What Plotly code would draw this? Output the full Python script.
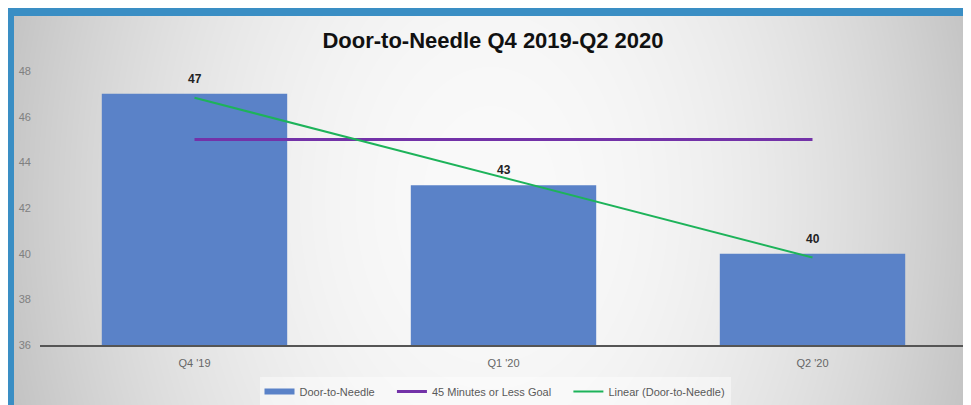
import base64
import struct
import zlib

import numpy as np
import plotly.graph_objects as go

# ---------------- data ----------------
categories = ["Q4 '19", "Q1 '20", "Q2 '20"]
door_to_needle = [47, 43, 40]
goal_values = [45, 45, 45]
trend_values = [46.83, 43.33, 39.83]   # Linear (Door-to-Needle) trendline
y_ticks = [36, 38, 40, 42, 44, 46, 48]

TITLE = "Door-to-Needle Q4 2019-Q2 2020"

# ---------------- geometry ----------------
# the page body adds an 8px offset, so the figure is laid out 8px smaller
OFF = 8
W, H = 971 - OFF, 405 - OFF
ML, MR, MT, MB = 40 - OFF, 4, 71 - OFF, 60
PW, PH = W - ML - MR, H - MT - MB

# ---------------- background image (gradient + frame) ----------------
yy, xx = np.mgrid[0:H, 0:W]
sx, sy = xx + OFF, yy + OFF
v = 250 - 55 * (((sx - 490) / 500.0) ** 2 + ((sy - 200) / 700.0) ** 2)
v = np.clip(v, 0, 255)
img = np.stack([v, v, v], axis=-1)
blue = ((sy < 16) | (sx < 14))
img[blue] = [58, 142, 196]
img = img.astype(np.uint8)


def png_bytes(arr):
    h, w, _ = arr.shape
    raw = b"".join(b"\x00" + arr[i].tobytes() for i in range(h))

    def chunk(tag, data):
        c = struct.pack(">I", len(data)) + tag + data
        return c + struct.pack(">I", zlib.crc32(tag + data) & 0xFFFFFFFF)

    return (b"\x89PNG\r\n\x1a\n"
            + chunk(b"IHDR", struct.pack(">IIBBBBB", w, h, 8, 2, 0, 0, 0))
            + chunk(b"IDAT", zlib.compress(raw, 9))
            + chunk(b"IEND", b""))


bg_src = "data:image/png;base64," + base64.b64encode(png_bytes(img)).decode()

FONT = "Arial, 'Liberation Sans', sans-serif"
BAR_COLOR = "#5a82c8"
GOAL_COLOR = "#7332a8"
TREND_COLOR = "#1db35a"
PAD = "&nbsp;" * 4

fig = go.Figure()
fig.add_trace(go.Bar(x=categories, y=door_to_needle, name="Door-to-Needle",
                     marker=dict(color=BAR_COLOR, line=dict(width=0)),
                     showlegend=False))
# legend-only entry to mimic the wide bar swatch
fig.add_trace(go.Scatter(x=[None], y=[None], mode="lines", name="Door-to-Needle" + PAD,
                         line=dict(color=BAR_COLOR, width=6)))
fig.add_trace(go.Scatter(x=categories, y=goal_values, mode="lines",
                         name="45 Minutes or Less Goal" + PAD,
                         line=dict(color=GOAL_COLOR, width=3)))
fig.add_trace(go.Scatter(x=categories, y=trend_values, mode="lines",
                         name="Linear (Door-to-Needle)",
                         line=dict(color=TREND_COLOR, width=2)))

annotations = []
for c, val in zip(categories, door_to_needle):
    annotations.append(dict(x=c, y=val, text="<b>%d</b>" % val, showarrow=False,
                            yshift=15, font=dict(family=FONT, size=12, color="#222")))

fig.update_layout(
    width=W, height=H,
    margin=dict(l=ML, r=MR, t=MT, b=MB, autoexpand=False),
    paper_bgcolor="white",
    plot_bgcolor="rgba(0,0,0,0)",
    bargap=0.4,
    font=dict(family=FONT),
    title=dict(text="<b>%s</b>" % TITLE, x=(493 - OFF) / W, xanchor="center",
               y=1 - (40 - OFF) / H, yanchor="middle", yref="container",
               font=dict(family=FONT, size=22, color="#111")),
    xaxis=dict(showgrid=False, showline=True, linecolor="#555", linewidth=2,
               tickfont=dict(family=FONT, size=11, color="#666"),
               ticks="", ticklabelstandoff=7, automargin=False),
    yaxis=dict(range=[36, 48], tickvals=y_ticks, showgrid=False, zeroline=False,
               showline=False, ticks="", automargin=False,
               tickfont=dict(family=FONT, size=11, color="#808080"),
               ticklabelstandoff=8),
    legend=dict(orientation="h", xref="container", x=(495 - OFF) / W, xanchor="center",
                yref="container", y=1 - (377 - OFF) / H, yanchor="top",
                bgcolor="rgba(255,255,255,0.45)",
                font=dict(family=FONT, size=11, color="#595959")),
    annotations=annotations,
    images=[dict(source=bg_src, xref="paper", yref="paper",
                 x=-ML / PW, y=1 + MT / PH, sizex=W / PW, sizey=H / PH,
                 sizing="stretch", xanchor="left", yanchor="top",
                 layer="below")],
)

fig.write_html("out.html")
